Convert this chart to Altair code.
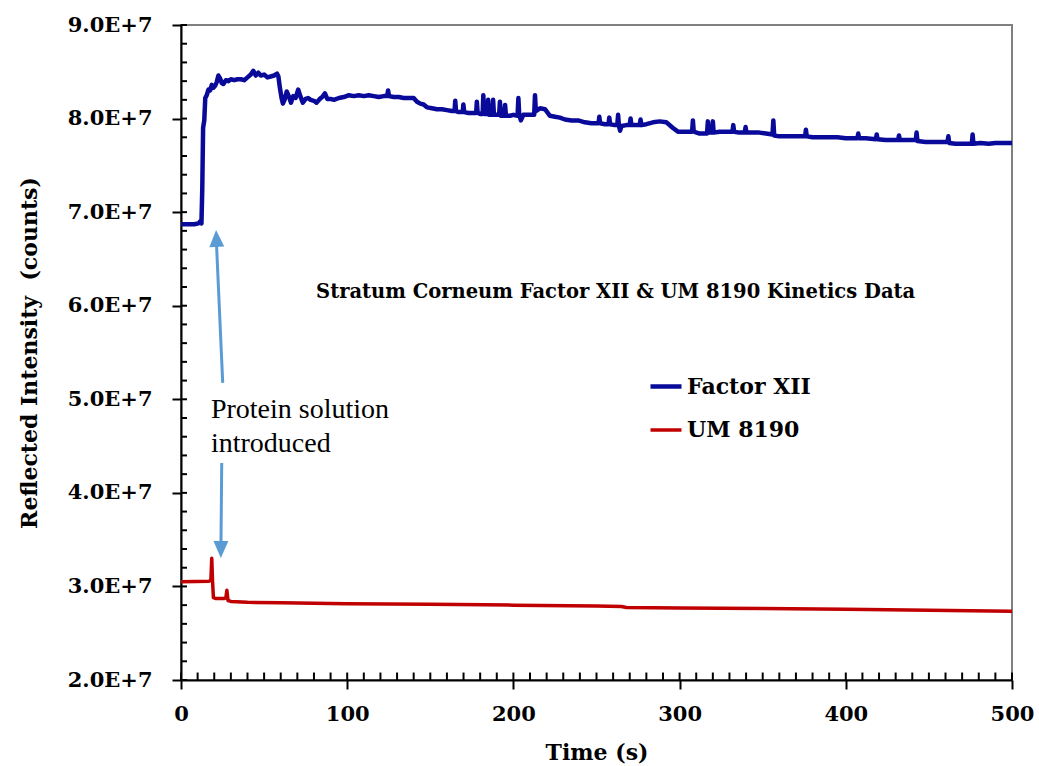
import altair as alt
import pandas as pd

# ---------------- data (values in units of 1E+7 counts) ----------------
fx_t = [0, 8, 10.5, 11.5, 12.3, 12.8, 13.3, 14.0, 14.6, 15.5, 16.5, 17.5, 18.5, 19.5, 20.5, 21.5, 22.5, 23.5,
        24.5, 25.5, 27, 28.5, 30, 32, 34, 36, 38, 40, 42, 43.5, 45, 46.5, 48, 50, 52, 54, 56, 57.8, 58.6, 59.5,
        60.5, 61.3, 62.3, 63.6, 64.8, 66.2, 67.5, 69, 70.5, 71.8, 73.3, 75, 76.5, 78, 80, 81.5, 83.5, 85, 86.6,
        88, 90, 92, 95, 98, 101, 104, 107, 110, 113, 116, 119, 122, 124, 124.6, 125.2, 128, 131, 134, 137, 140,
        142, 144, 146, 148, 151, 154, 157, 160, 163, 164.6, 165.0, 165.5, 167, 169.5, 169.9, 170.4, 173, 176,
        177.6, 178, 178.5, 180, 181.5, 181.9, 182.4, 184.3, 184.8, 185.3, 187.3, 187.8, 188.3, 191.4, 191.9,
        192.4, 194.5, 195, 195.5, 198, 200, 202.5, 203, 203.5, 204.5, 206, 209, 212.5, 213, 213.5, 216, 219,
        222, 225, 228, 231, 235, 239, 243, 247, 251.2, 251.7, 252.2, 255, 257.2, 257.7, 258.2, 261, 262.5, 263,
        263.5, 264.2, 265, 268, 270, 270.5, 271, 274, 276, 276.5, 277, 280, 284, 288, 292, 296, 299, 302, 305,
        307.5, 308, 308.5, 312, 316.5, 317, 317.5, 319.5, 320, 320.5, 324, 328, 331.8, 332.3, 332.8, 336, 339.2,
        339.7, 340.2, 344, 348, 352, 355.9, 356.4, 356.9, 360, 365, 370, 375.5, 376, 376.5, 380, 385, 390, 395,
        400, 404, 407, 407.5, 408, 412, 418.1, 418.6, 419.1, 424, 428, 431.5, 432, 432.5, 436, 440, 442.1, 442.6,
        443.1, 448, 452, 456, 461.2, 461.7, 462.2, 466, 470, 475.8, 476.3, 476.8, 481, 486, 490, 495, 500]
fx_v = [6.87, 6.87, 6.88, 6.90, 6.88, 7.25, 7.90, 7.98, 8.22, 8.25, 8.31, 8.30, 8.36, 8.33, 8.35, 8.39, 8.46, 8.43,
        8.38, 8.37, 8.41, 8.40, 8.42, 8.41, 8.42, 8.42, 8.41, 8.44, 8.47, 8.51, 8.46, 8.49, 8.46, 8.47, 8.44, 8.45,
        8.46, 8.48, 8.45, 8.33, 8.22, 8.16, 8.20, 8.29, 8.24, 8.17, 8.24, 8.22, 8.31, 8.24, 8.17, 8.21, 8.22, 8.20,
        8.19, 8.17, 8.21, 8.23, 8.27, 8.21, 8.21, 8.20, 8.22, 8.23, 8.25, 8.24, 8.25, 8.24, 8.25, 8.24, 8.23, 8.24,
        8.24, 8.30, 8.24, 8.23, 8.23, 8.22, 8.22, 8.22, 8.18, 8.16, 8.15, 8.12, 8.11, 8.10, 8.10, 8.09, 8.08, 8.08,
        8.19, 8.08, 8.07, 8.07, 8.15, 8.07, 8.06, 8.06, 8.06, 8.18, 8.06, 8.05, 8.05, 8.25, 8.05, 8.05, 8.20, 8.04,
        8.04, 8.20, 8.04, 8.04, 8.18, 8.03, 8.03, 8.145, 8.03, 8.03, 8.04, 8.03, 8.22, 8.04, 7.98, 8.04, 8.04, 8.04,
        8.25, 8.08, 8.11, 8.10, 8.03, 8.02, 8.01, 7.99, 7.98, 7.98, 7.96, 7.95, 7.95, 8.02, 7.95, 7.94, 7.94, 8.01,
        7.94, 7.93, 7.93, 8.04, 7.92, 7.87, 7.92, 7.93, 7.93, 8.00, 7.93, 7.93, 7.93, 7.99, 7.93, 7.94, 7.96, 7.97,
        7.96, 7.90, 7.86, 7.86, 7.86, 7.86, 7.98, 7.86, 7.84, 7.84, 7.97, 7.85, 7.85, 7.97, 7.85, 7.86, 7.86, 7.86,
        7.93, 7.86, 7.85, 7.85, 7.91, 7.85, 7.85, 7.85, 7.84, 7.83, 7.98, 7.82, 7.81, 7.81, 7.81, 7.81, 7.88, 7.81,
        7.80, 7.80, 7.80, 7.80, 7.79, 7.79, 7.79, 7.84, 7.79, 7.79, 7.78, 7.83, 7.78, 7.77, 7.77, 7.77, 7.82, 7.77,
        7.77, 7.77, 7.77, 7.85, 7.76, 7.75, 7.75, 7.75, 7.75, 7.81, 7.74, 7.73, 7.73, 7.73, 7.83, 7.73, 7.74, 7.73,
        7.74, 7.74, 7.74]

um_t = [0, 17, 18, 18.5, 19.0, 19.5, 21, 26, 27, 27.6, 28.3, 30, 40, 60, 80, 100, 150, 200, 250, 265, 268, 300,
        350, 400, 450, 500]
um_v = [3.05, 3.055, 3.07, 3.30, 3.05, 2.88, 2.87, 2.87, 2.88, 2.96, 2.85, 2.84, 2.83, 2.825, 2.82, 2.815, 2.81,
        2.80, 2.79, 2.785, 2.775, 2.77, 2.765, 2.755, 2.745, 2.735]

series_names = ["Factor XII", "UM 8190"]
series_colors = ["#0a0a9a", "#c00000"]
series_widths = [4.5, 3.5]

x_major = [0, 100, 200, 300, 400, 500]
y_major = [2, 3, 4, 5, 6, 7, 8, 9]
x_minor = [10 * i for i in range(51)]
y_minor = [round(2 + 0.2 * i, 1) for i in range(36)]

# annotation arrow (tip, tail) and text
arrow_up_tip = (21.1, 6.81)
arrow_up_tail = (25.1, 5.175)
arrow_down_tip = (24.0, 3.305)
arrow_down_tail = (24.5, 4.32)
note_lines = ["Protein solution", "introduced"]
note_t = [18, 18]
note_v = [4.801, 4.438]
inner_title = "Stratum Corneum Factor XII & UM 8190 Kinetics Data"
inner_title_pos = (261.5, 6.147)

# ---------------- frames ----------------
lines_df = pd.DataFrame({
    "t": fx_t + um_t,
    "v": fx_v + um_v,
    "series": [series_names[0]] * len(fx_t) + [series_names[1]] * len(um_t),
})
xminor_df = pd.DataFrame({"t": x_minor, "v": [2.0] * len(x_minor), "v2": [2.08] * len(x_minor)})
yminor_df = pd.DataFrame({"v": y_minor, "t": [0.0] * len(y_minor), "t2": [3.6] * len(y_minor)})
shaft_df = pd.DataFrame({
    "t": [arrow_up_tip[0], arrow_down_tail[0]],
    "v": [arrow_up_tip[1] - 0.05, arrow_down_tail[1]],
    "t2": [arrow_up_tail[0], arrow_down_tip[0]],
    "v2": [arrow_up_tail[1], arrow_down_tip[1] + 0.05],
})
head_up_df = pd.DataFrame({"t": [arrow_up_tip[0]], "v": [arrow_up_tip[1]]})
head_dn_df = pd.DataFrame({"t": [arrow_down_tip[0]], "v": [arrow_down_tip[1]]})
note_df = pd.DataFrame({"t": note_t, "v": note_v, "txt": note_lines})
title_df = pd.DataFrame({"t": [inner_title_pos[0]], "v": [inner_title_pos[1]], "txt": [inner_title]})

BOLD = "DejaVu Serif"
xscale = alt.Scale(domain=[0, 500], nice=False, zero=False)
yscale = alt.Scale(domain=[2, 9], nice=False, zero=False)
xaxis = alt.Axis(values=x_major, title="Time (s)", labelPadding=14, labelFlush=False,
                 titleX=415.5, titleY=79, titleBaseline="alphabetic", titleAlign="center")
yaxis = alt.Axis(values=y_major, title="Reflected Intensity\u00a0 (counts)",
                 labelExpr="format(datum.value, '.1f') + 'E+7'", labelPadding=20, labelFlush=False,
                 titleX=-145, titleY=327.5, titleAngle=270, titleBaseline="alphabetic", titleAlign="center")


def X(f="t"):
    return alt.X(f, type="quantitative", scale=xscale, axis=xaxis)


def Y(f="v"):
    return alt.Y(f, type="quantitative", scale=yscale, axis=yaxis)


lines = alt.Chart(lines_df).mark_line(strokeJoin="round").encode(
    x=X(), y=Y(),
    color=alt.Color("series:N", scale=alt.Scale(domain=series_names, range=series_colors),
                    legend=alt.Legend(orient="none", legendX=467, legendY=343.5, title=None,
                                      symbolType="stroke", symbolSize=961, symbolStrokeWidth=3,
                                      labelFont=BOLD, labelFontSize=22, labelFontWeight="bold",
                                      labelColor="black", labelOffset=3, rowPadding=15, padding=0,
                                      labelLimit=0)),
    strokeWidth=alt.StrokeWidth("series:N", scale=alt.Scale(domain=series_names, range=series_widths),
                                legend=None),
    order=alt.Order("t:Q"),
)

# inward-pointing minor ticks along the bottom and left edges
xminor = alt.Chart(xminor_df).mark_rule(color="black", strokeWidth=2).encode(
    x=X(), y=Y(), y2="v2:Q")
yminor = alt.Chart(yminor_df).mark_rule(color="black", strokeWidth=2).encode(
    y=Y(), x=X(), x2="t2:Q")

shafts = alt.Chart(shaft_df).mark_rule(color="#5b9bd5", strokeWidth=3).encode(
    x=X(), y=Y(), x2="t2:Q", y2="v2:Q")
head_up = alt.Chart(head_up_df).mark_point(
    shape="M0,0L-0.44,1L0.44,1Z", size=1156, filled=True, opacity=1, color="#5b9bd5", angle=357.5
).encode(x=X(), y=Y())
head_dn = alt.Chart(head_dn_df).mark_point(
    shape="M0,0L-0.44,-1L0.44,-1Z", size=1156, filled=True, opacity=1, color="#5b9bd5"
).encode(x=X(), y=Y())

note = alt.Chart(note_df).mark_text(
    font="Liberation Serif", fontSize=28, align="left", baseline="alphabetic", color="black"
).encode(x=X(), y=Y(), text="txt:N")

title = alt.Chart(title_df).mark_text(
    font=BOLD, fontSize=19.5, fontWeight="bold", align="center", baseline="middle", color="black"
).encode(x=X(), y=Y(), text="txt:N")

chart = alt.layer(lines, xminor, yminor, shafts, head_up, head_dn, note, title).properties(
    width=831, height=655,
    padding={"left": 181, "top": 25, "right": 27, "bottom": 86},
    autosize=alt.AutoSizeParams(type="none"),
    background="white",
).configure_view(
    stroke="#808080", strokeWidth=2
).configure_axis(
    grid=False, domainColor="black", domainWidth=2, tickColor="black", tickWidth=2, tickSize=9,
    labelFont=BOLD, labelFontSize=21, labelFontWeight="bold", labelColor="black",
    titleFont=BOLD, titleFontSize=22, titleFontWeight="bold", titleColor="black",
)

chart.save("out.html", embed_options={"renderer": "svg", "actions": False})
